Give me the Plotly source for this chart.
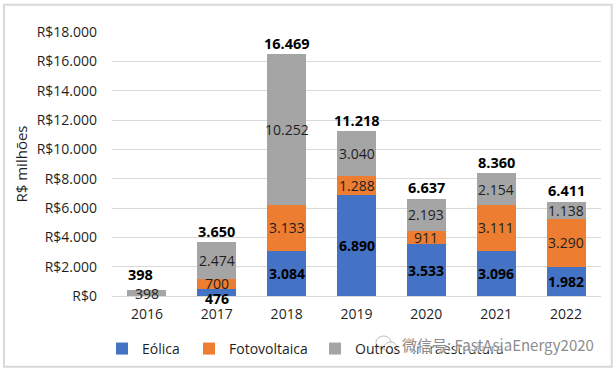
import plotly.graph_objects as go

years = ["2016", "2017", "2018", "2019", "2020", "2021", "2022"]
eolica = [0, 476, 3084, 6890, 3533, 3096, 1982]
foto = [0, 700, 3133, 1288, 911, 3111, 3290]
outros = [398, 2474, 10252, 3040, 2193, 2154, 1138]
totais = [398, 3650, 16469, 11218, 6637, 8360, 6411]
tick_vals = [0, 2000, 4000, 6000, 8000, 10000, 12000, 14000, 16000, 18000]

FONT = "Open Sans"
TXT = "#1f1f1f"


def br(v):
    return f"{v:,}".replace(",", ".")


def px_x(p):
    return (p - 112) / 489


def px_y(p):
    return (296 - p) / 264


fig = go.Figure()
for name, vals, col, leg in [("Eólica", eolica, "#4472C4", "legend"),
                             ("Fotovoltaica", foto, "#ED7D31", "legend2"),
                             ("Outros - Infraestrutura", outros, "#A5A5A5", "legend3")]:
    fig.add_bar(x=years, y=vals, name=name, legend=leg, marker=dict(color=col, line_width=0))

ann = []
base = [0] * len(years)
for vals, bold in [(eolica, True), (foto, False), (outros, False)]:
    for i, v in enumerate(vals):
        if v:
            shift = -6 if (bold and v < 1000) else 0
            t = br(v)
            ann.append(dict(x=i, y=base[i] + v / 2, text=f"<b>{t}</b>" if bold else t,
                            showarrow=False, yshift=shift,
                            font=dict(family=FONT, size=14, color="#000000" if bold else TXT)))
            base[i] += v
for i, v in enumerate(totais):
    ann.append(dict(x=i, y=v, text=f"<b>{br(v)}</b>", showarrow=False,
                    yshift=16 if i == 0 else 11, xshift=-6 if i == 0 else 0,
                    font=dict(family=FONT, size=14.5, color="#000000")))
# marca d'água
ann.append(dict(x=0.99, y=-0.183, xref="paper", yref="paper", xanchor="right", yanchor="middle",
                text="微信号: FastAsiaEnergy2020", showarrow=False,
                font=dict(family="Noto Sans CJK SC", size=15, color="#8c8c8c",
                          shadow="0 0 3px #ffffff, 0 0 3px #ffffff, 0 0 3px #ffffff")))


def legend_at(px):
    return dict(orientation="h", x=px_x(px), xanchor="left", y=-0.14, yanchor="top",
                font=dict(family=FONT, size=14, color=TXT), itemwidth=30,
                bgcolor="rgba(0,0,0,0)")


def bubble(x0, y0, x1, y1):
    return dict(type="circle", xref="paper", yref="paper", layer="above",
                x0=px_x(x0), x1=px_x(x1), y0=px_y(y1), y1=px_y(y0),
                line=dict(color="#bdbdbd", width=1), fillcolor="rgba(255,255,255,0.85)")


fig.update_layout(
    width=616, height=372, autosize=False,
    margin=dict(l=112, r=15, t=32, b=76, pad=0, autoexpand=False),
    paper_bgcolor="white", plot_bgcolor="white",
    barmode="stack", bargap=0.44,
    font=dict(family=FONT, size=14, color=TXT),
    showlegend=True,
    legend=legend_at(102), legend2=legend_at(189), legend3=legend_at(315),
    annotations=ann,
    shapes=[dict(type="rect", xref="paper", yref="paper",
                 x0=-0.221, x1=1.022, y0=-0.268, y1=1.103,
                 line=dict(color="#D9D9D9", width=2), fillcolor="rgba(0,0,0,0)", layer="below"),
            bubble(376, 336, 391, 349), bubble(384, 342, 397, 353)],
    xaxis=dict(type="category", range=[-0.5, 6.5], showgrid=False, ticks="", showline=True,
               linecolor="#D9D9D9", linewidth=1,
               tickfont=dict(family=FONT, size=14, color=TXT), ticklabelstandoff=5),
    yaxis=dict(range=[0, 18000], tickvals=tick_vals, ticktext=["R$" + br(v) for v in tick_vals],
               showgrid=True, gridcolor="#D9D9D9", gridwidth=1, zeroline=False, ticks="",
               tickfont=dict(family=FONT, size=14, color=TXT), ticklabelstandoff=14,
               title=dict(text="R$ milhões", font=dict(family=FONT, size=15, color=TXT), standoff=5)),
)

fig.write_html("out.html", config={"displayModeBar": False},
               post_script="document.body.style.margin='0';")
